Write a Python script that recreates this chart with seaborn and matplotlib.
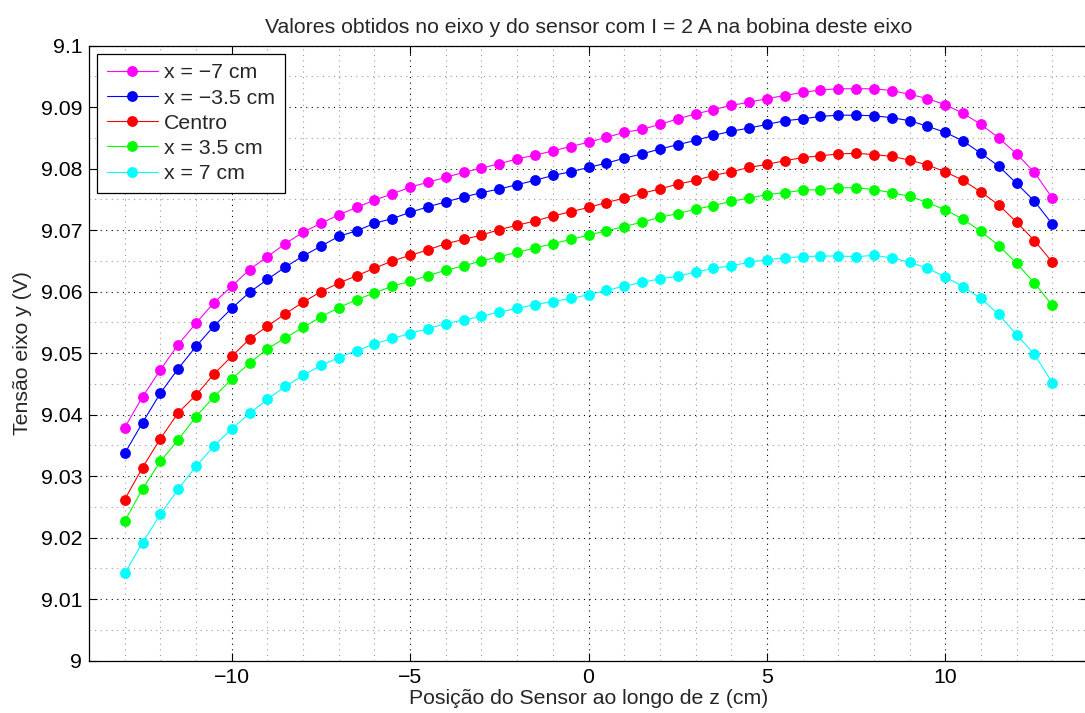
import seaborn as sns
import pandas as pd
import matplotlib.pyplot as plt
from matplotlib.ticker import MultipleLocator

# posições do sensor ao longo de z (cm)
z = [-13, -12.5, -12, -11.5, -11, -10.5, -10, -9.5, -9, -8.5, -8, -7.5, -7,
     -6.5, -6, -5.5, -5, -4.5, -4, -3.5, -3, -2.5, -2, -1.5, -1, -0.5, 0,
     0.5, 1, 1.5, 2, 2.5, 3, 3.5, 4, 4.5, 5, 5.5, 6, 6.5, 7,
     7.5, 8, 8.5, 9, 9.5, 10, 10.5, 11, 11.5, 12, 12.5, 13]

x_m7 = [9.0379, 9.0429, 9.0473, 9.0514, 9.0549, 9.0582, 9.0609, 9.0636, 9.0657, 9.0678, 9.0697, 9.0711, 9.0725,
        9.0737, 9.0749, 9.0759, 9.0770, 9.0778, 9.0786, 9.0794, 9.0801, 9.0808, 9.0816, 9.0822, 9.0829, 9.0836, 9.0843,
        9.0851, 9.0859, 9.0864, 9.0872, 9.0881, 9.0889, 9.0896, 9.0903, 9.0908, 9.0914, 9.0919, 9.0924, 9.0928, 9.0930,
        9.0930, 9.0930, 9.0927, 9.0921, 9.0914, 9.0904, 9.0890, 9.0872, 9.0850, 9.0824, 9.0794, 9.0752]

x_m35 = [9.0337, 9.0387, 9.0435, 9.0475, 9.0511, 9.0544, 9.0573, 9.0599, 9.0620, 9.0640, 9.0658, 9.0674, 9.0690,
         9.0699, 9.0711, 9.0719, 9.0729, 9.0738, 9.0746, 9.0754, 9.0761, 9.0767, 9.0774, 9.0781, 9.0789, 9.0795, 9.0802,
         9.0809, 9.0817, 9.0824, 9.0832, 9.0839, 9.0846, 9.0854, 9.0861, 9.0866, 9.0872, 9.0878, 9.0881, 9.0885, 9.0887,
         9.0887, 9.0886, 9.0883, 9.0878, 9.0869, 9.0859, 9.0845, 9.0825, 9.0804, 9.0776, 9.0747, 9.0710]

centro = [9.0262, 9.0314, 9.0361, 9.0403, 9.0432, 9.0466, 9.0495, 9.0523, 9.0544, 9.0564, 9.0583, 9.0600, 9.0614,
          9.0626, 9.0638, 9.0650, 9.0659, 9.0668, 9.0678, 9.0685, 9.0692, 9.0701, 9.0708, 9.0715, 9.0723, 9.0730, 9.0737,
          9.0745, 9.0752, 9.0760, 9.0767, 9.0775, 9.0781, 9.0789, 9.0795, 9.0802, 9.0807, 9.0813, 9.0818, 9.0821, 9.0824,
          9.0825, 9.0823, 9.0820, 9.0814, 9.0806, 9.0795, 9.0781, 9.0762, 9.0741, 9.0713, 9.0683, 9.0648]

x_p35 = [9.0227, 9.0279, 9.0324, 9.0359, 9.0397, 9.0429, 9.0458, 9.0484, 9.0507, 9.0525, 9.0542, 9.0559, 9.0574,
         9.0587, 9.0598, 9.0609, 9.0617, 9.0626, 9.0635, 9.0642, 9.0650, 9.0657, 9.0664, 9.0671, 9.0678, 9.0685, 9.0692,
         9.0699, 9.0706, 9.0713, 9.0721, 9.0727, 9.0734, 9.0740, 9.0747, 9.0752, 9.0758, 9.0761, 9.0765, 9.0766, 9.0769,
         9.0769, 9.0766, 9.0761, 9.0755, 9.0745, 9.0733, 9.0718, 9.0698, 9.0675, 9.0646, 9.0614, 9.0578]

x_p7 = [9.0142, 9.0192, 9.0238, 9.0279, 9.0316, 9.0349, 9.0377, 9.0402, 9.0425, 9.0446, 9.0464, 9.0480, 9.0493,
        9.0504, 9.0515, 9.0524, 9.0532, 9.0540, 9.0548, 9.0554, 9.0560, 9.0567, 9.0573, 9.0579, 9.0584, 9.0589, 9.0595,
        9.0602, 9.0609, 9.0615, 9.0621, 9.0625, 9.0632, 9.0638, 9.0642, 9.0648, 9.0652, 9.0655, 9.0657, 9.0658, 9.0658,
        9.0657, 9.0659, 9.0655, 9.0648, 9.0638, 9.0624, 9.0608, 9.0589, 9.0563, 9.0530, 9.0498, 9.0452]

labels = ['x = \u22127 cm', 'x = \u22123.5 cm', 'Centro', 'x = 3.5 cm', 'x = 7 cm']
cores = ['#ff00ff', '#0000ff', '#ff0000', '#00ff00', '#00ffff']

y_ticks = [9, 9.01, 9.02, 9.03, 9.04, 9.05, 9.06, 9.07, 9.08, 9.09, 9.1]
y_tick_labels = ['9', '9.01', '9.02', '9.03', '9.04', '9.05', '9.06', '9.07', '9.08', '9.09', '9.1']
x_ticks = [-10, -5, 0, 5, 10]

series = [x_m7, x_m35, centro, x_p35, x_p7]
df = pd.concat([pd.DataFrame({'z': z, 'v': s, 'serie': lab}) for s, lab in zip(series, labels)],
               ignore_index=True)

sns.set_style('white')
plt.rcParams['font.family'] = ['Liberation Sans', 'DejaVu Sans']
fs = 15.3

fig = plt.figure(figsize=(10.85, 7.13), dpi=100)
ax = fig.add_axes([89 / 1085, 1 - 660.7 / 713, 999 / 1085, 615 / 713])

sns.lineplot(data=df, x='z', y='v', hue='serie', palette=cores, hue_order=labels,
             marker='o', markersize=7.8, markeredgewidth=0, linewidth=0.8,
             legend=False, ax=ax)

ax.set_xlim(-14, 14)
ax.set_ylim(9, 9.1)
ax.set_xticks(x_ticks)
ax.set_yticks(y_ticks)
ax.set_yticklabels(y_tick_labels)
ax.xaxis.set_minor_locator(MultipleLocator(1))
ax.yaxis.set_minor_locator(MultipleLocator(0.005))

ax.grid(True, which='major', color='black', linestyle=(0, (1, 4)), linewidth=0.8)
ax.grid(True, which='minor', color='#999999', linestyle=(0, (1, 4)), linewidth=0.8)
ax.set_axisbelow(True)

ax.tick_params(which='major', direction='in', length=5.5, width=0.8, top=True, right=True,
               bottom=True, left=True, labelsize=fs, colors='black', pad=5)
ax.tick_params(which='minor', length=0)
for sp in ax.spines.values():
    sp.set_color('black')
    sp.set_linewidth(0.9)

ax.set_xlabel('Posição do Sensor ao longo de z (cm)', fontsize=fs, labelpad=2)
ax.set_ylabel('Tensão eixo y (V)', fontsize=fs, labelpad=6)
ax.set_title('Valores obtidos no eixo y do sensor com I = 2 A na bobina deste eixo', fontsize=fs, pad=9)

leg = ax.legend(handles=ax.lines[:5], labels=labels, loc='upper left', fontsize=fs,
                frameon=True, fancybox=False, framealpha=1, edgecolor='black',
                borderpad=0.45, labelspacing=0.29, handlelength=2.4, handletextpad=0.3,
                borderaxespad=0.38)
leg.get_frame().set_linewidth(0.9)

fig.savefig('out.png', dpi=100)
